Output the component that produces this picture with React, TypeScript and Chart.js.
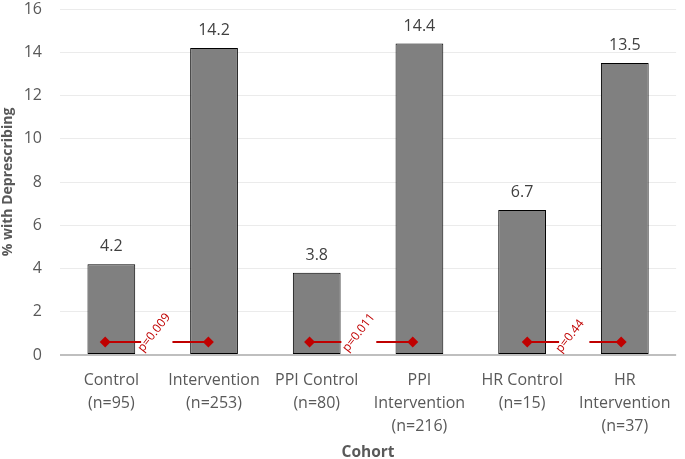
import React, { useEffect, useRef } from "react";
import { Chart, registerables } from "chart.js";

Chart.register(...registerables);

// ---- data ----
const categories: string[][] = [
  ["Control", "(n=95)"],
  ["Intervention", "(n=253)"],
  ["PPI Control", "(n=80)"],
  ["PPI", "Intervention", "(n=216)"],
  ["HR Control", "(n=15)"],
  ["HR", "Intervention", "(n=37)"],
];
const values = [4.2, 14.2, 3.8, 14.4, 6.7, 13.5];

const yMin = 0;
const yMax = 16;
const yStep = 2;

// p-value comparison markers (x in category units, y in % units)
const pLabels = ["p=0.009", "p=0.011", "p=0.44"];
const markerY = 0.6;
const markerLeftX = [-0.06, 1.93, 4.05];
const markerRightX = [0.945, 2.935, 4.965];
const gapStartX = [0.29, 2.24, 4.36];
const gapEndX = [0.595, 2.58, 4.655];
const pLabelX = [0.417, 2.409, 4.467];
const pLabelY = [1.03, 1.03, 0.87];

const FONT = '"Open Sans", "DejaVu Sans", sans-serif';
const RED = "#c00000";

export default function App() {
  const ref = useRef<HTMLCanvasElement | null>(null);

  useEffect(() => {
    document.body.style.margin = "0";
    const canvas = ref.current;
    if (!canvas) return;

    const lineDatasets: any[] = [];
    for (let i = 0; i < pLabels.length; i++) {
      const common = {
        type: "line",
        xAxisID: "x2",
        yAxisID: "y",
        order: 0,
        borderColor: RED,
        backgroundColor: RED,
        borderWidth: 2,
        pointStyle: "rectRot",
        pointBorderWidth: 0,
        stack: "markers",
      };
      lineDatasets.push({
        ...common,
        data: [
          { x: markerLeftX[i], y: markerY },
          { x: gapStartX[i], y: markerY },
        ],
        pointRadius: [5.5, 0],
      });
      lineDatasets.push({
        ...common,
        data: [
          { x: gapEndX[i], y: markerY },
          { x: markerRightX[i], y: markerY },
        ],
        pointRadius: [0, 5.5],
      });
    }

    const barValuePlugin = {
      id: "barValues",
      afterDatasetsDraw(chart: any) {
        const ctx = chart.ctx;
        const meta = chart.getDatasetMeta(0);
        ctx.save();
        ctx.font = `16px ${FONT}`;
        ctx.fillStyle = "#404040";
        ctx.textAlign = "center";
        ctx.textBaseline = "alphabetic";
        meta.data.forEach((bar: any, i: number) => {
          ctx.fillText(values[i].toFixed(1), bar.x, bar.y - 13);
        });
        ctx.restore();
      },
    };

    const pLabelPlugin = {
      id: "pLabels",
      afterDatasetsDraw(chart: any) {
        const ctx = chart.ctx;
        const xs = chart.scales.x2;
        const ys = chart.scales.y;
        ctx.save();
        ctx.font = `12px ${FONT}`;
        ctx.fillStyle = RED;
        ctx.textAlign = "center";
        ctx.textBaseline = "middle";
        for (let i = 0; i < pLabels.length; i++) {
          ctx.save();
          ctx.translate(xs.getPixelForValue(pLabelX[i]), ys.getPixelForValue(pLabelY[i]));
          ctx.rotate((-52 * Math.PI) / 180);
          ctx.fillText(pLabels[i], 0, 0);
          ctx.restore();
        }
        ctx.restore();
      },
    };

    const chart = new Chart(canvas, {
      type: "bar",
      data: {
        labels: categories as any,
        datasets: [
          {
            type: "bar",
            xAxisID: "x",
            yAxisID: "y",
            order: 1,
            data: values,
            backgroundColor: "#808080",
            borderColor: "#000000",
            borderWidth: 1,
            borderSkipped: false,
            barPercentage: 0.465,
            categoryPercentage: 1,
            grouped: false,
          } as any,
          ...lineDatasets,
        ],
      },
      options: {
        animation: false,
        responsive: false,
        devicePixelRatio: 1,
        layout: { padding: { top: 0, right: 4, left: 0, bottom: 0 } },
        plugins: {
          legend: { display: false },
          tooltip: { enabled: false },
          title: { display: false },
        },
        scales: {
          x: {
            type: "category",
            position: "bottom",
            offset: true,
            grid: { display: false, drawTicks: false },
            border: { display: false },
            ticks: {
              color: "#595959",
              font: { family: FONT, size: 16, lineHeight: 1.4375 },
              padding: 14,
              maxRotation: 0,
              minRotation: 0,
              autoSkip: false,
            },
            title: {
              display: true,
              text: "Cohort",
              color: "#595959",
              font: { family: FONT, size: 15.5, weight: "bold", lineHeight: 0.8 },
              padding: { top: 0, bottom: 0 },
            },
            afterFit(scale: any) {
              scale.height = 104;
              scale.paddingTop = 0;
              scale.paddingBottom = 0;
            },
          },
          x2: {
            type: "linear",
            position: "bottom",
            display: false,
            offset: false,
            grid: { offset: false },
            bounds: "data",
            min: -0.5,
            max: 5.5,
          },
          y: {
            type: "linear",
            min: yMin,
            max: yMax,
            border: { display: false },
            grid: {
              drawTicks: false,
              color: (c: any) => (c.tick && c.tick.value === 0 ? "#bfbfbf" : "#ebebeb"),
              lineWidth: (c: any) => (c.tick && c.tick.value === 0 ? 2 : 1),
            },
            ticks: {
              stepSize: yStep,
              color: "#595959",
              font: { family: FONT, size: 16, lineHeight: 1.0 },
              padding: 18,
            },
            title: {
              display: true,
              text: "% with Deprescribing",
              color: "#595959",
              font: { family: FONT, size: 14, weight: "bold", lineHeight: 1.2 },
              padding: { top: 0, bottom: 0 },
            },
            afterFit(scale: any) {
              scale.width = 60;
              scale.paddingTop = 9;
              scale.paddingBottom = 0;
            },
          },
        },
      } as any,
      plugins: [barValuePlugin, pLabelPlugin],
    });

    return () => chart.destroy();
  }, []);

  return (
    <div style={{ width: 685, height: 459, position: "relative" }}>
      <canvas ref={ref} width={685} height={459} style={{ display: "block" }} />
    </div>
  );
}
